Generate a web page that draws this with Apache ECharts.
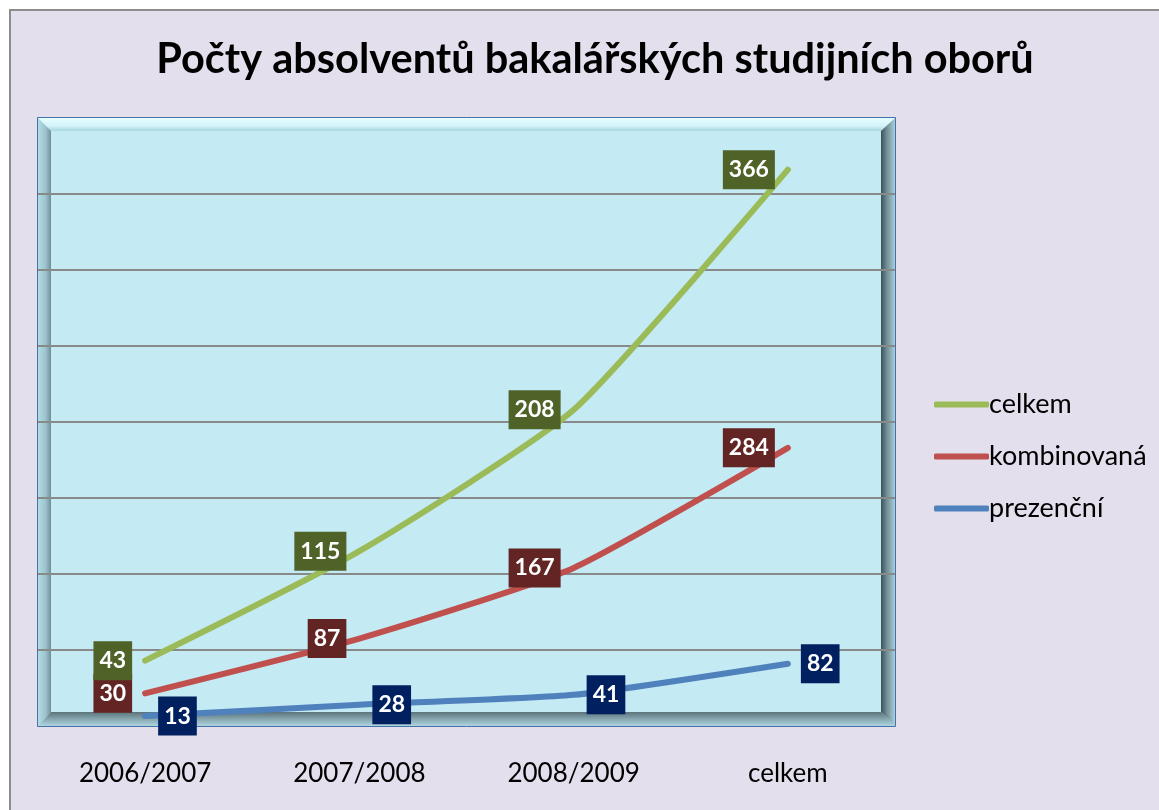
<!DOCTYPE html>
<html>
<head>
<meta charset="utf-8">
<script src="https://cdn.jsdelivr.net/npm/echarts@6/dist/echarts.min.js"></script>
<style>
html,body{margin:0;padding:0;background:#ffffff;}
#c{width:1159px;height:810px;}
</style>
</head>
<body>
<div id="c"></div>
<script>
var titleText = 'Počty absolventů bakalářských studijních oborů';
var categories = ['2006/2007', '2007/2008', '2008/2009', 'celkem'];
var prezencni = [13, 28, 41, 82];
var kombinovana = [30, 87, 167, 284];
var celkem = [43, 115, 208, 366];
var seriesNames = ['prezenční', 'kombinovaná', 'celkem'];
var legendOrder = ['celkem', 'kombinovaná', 'prezenční'];

var FONT = 'Lato, "Open Sans", sans-serif';
var chart = echarts.init(document.getElementById('c'), null, {renderer: 'canvas'});

function lin(x1, y1, x2, y2, stops) {
  return new echarts.graphic.LinearGradient(x1, y1, x2, y2, stops.map(function (s) { return {offset: s[0], color: s[1]}; }));
}

function mkSeries(name, data, lineColor, labelBg, pos) {
  return {
    name: name,
    type: 'line',
    stack: 'total',
    data: data,
    smooth: 0.18,
    symbol: 'circle',
    symbolSize: 0,
    showSymbol: true,
    lineStyle: {color: lineColor, width: 6, cap: 'round', join: 'round'},
    itemStyle: {color: lineColor},
    label: {
      show: true,
      position: pos,
      distance: 13,
      color: '#ffffff',
      fontFamily: FONT,
      fontWeight: 'bold',
      fontSize: 23,
      backgroundColor: labelBg,
      padding: [8, 6, 7, 6],
      lineHeight: 24
    },
    emphasis: {disabled: true},
    animation: false
  };
}

var option = {
  backgroundColor: '#ffffff',
  animation: false,
  graphic: [
    {type: 'rect', z: -20, shape: {x: 10, y: 10, width: 1160, height: 820}, style: {fill: '#E4DFEC', stroke: '#8C8C8C', lineWidth: 2}},
    {type: 'rect', z: -10, shape: {x: 37.5, y: 117.5, width: 858, height: 609}, style: {fill: '#C4EAF4', stroke: '#4672AA', lineWidth: 1}},
    {type: 'polygon', z: -9, shape: {points: [[38, 118], [895, 118], [881, 131], [51, 131]]}, style: {fill: lin(0, 0, 0, 1, [[0, '#E6FEFF'], [0.6, '#D2F4FA'], [1, '#A9D6E0']])}},
    {type: 'polygon', z: -9, shape: {points: [[38, 118], [51, 131], [51, 712], [38, 726]]}, style: {fill: lin(0, 0, 1, 0, [[0, '#B3DCE6'], [0.6, '#9CC2CC'], [1, '#6E8E98']])}},
    {type: 'polygon', z: -9, shape: {points: [[895, 118], [895, 726], [881, 712], [881, 131]]}, style: {fill: lin(0, 0, 1, 0, [[0, '#3E5158'], [0.4, '#6F8C94'], [1, '#A9D0DA']])}},
    {type: 'polygon', z: -9, shape: {points: [[38, 726], [895, 726], [881, 712], [51, 712]]}, style: {fill: lin(0, 0, 0, 1, [[0, '#5C737B'], [0.5, '#86A6AF'], [1, '#AFD6DF']])}}
  ],
  title: {
    text: titleText,
    left: 590,
    top: 34,
    textAlign: 'center',
    textStyle: {fontFamily: FONT, fontWeight: 'bold', fontSize: 41.5, color: '#000000'}
  },
  legend: {
    orient: 'vertical',
    left: 929,
    top: 386,
    data: legendOrder,
    icon: 'roundRect',
    itemWidth: 55,
    itemHeight: 6,
    itemGap: 25,
    textStyle: {fontFamily: FONT, fontSize: 27, color: '#000000', padding: [0, 0, 0, -5]},
    selectedMode: false
  },
  grid: {left: 38, top: 118, width: 857, height: 608, containLabel: false},
  xAxis: {
    type: 'category',
    data: categories,
    boundaryGap: true,
    axisLine: {show: false},
    axisTick: {show: false},
    axisLabel: {fontFamily: FONT, fontSize: 26, color: '#000000', margin: 35}
  },
  yAxis: {
    type: 'value',
    min: 0,
    max: 800,
    interval: 100,
    axisLine: {show: false},
    axisTick: {show: false},
    axisLabel: {show: false},
    splitLine: {show: true, showMinLine: false, showMaxLine: false, lineStyle: {color: '#898989', width: 2}}
  },
  series: [
    mkSeries(seriesNames[0], prezencni, '#4F81BD', '#002060', 'right'),
    mkSeries(seriesNames[1], kombinovana, '#C0504D', '#632523', 'left'),
    mkSeries(seriesNames[2], celkem, '#9BBB59', '#4F6228', 'left')
  ]
};
chart.setOption(option);
</script>
</body>
</html>
